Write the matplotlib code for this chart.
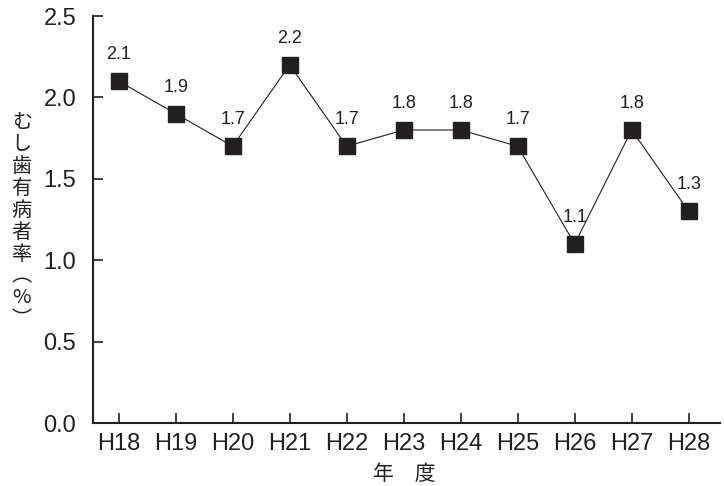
import matplotlib
matplotlib.use("Agg")
import matplotlib.pyplot as plt

years = ["H18", "H19", "H20", "H21", "H22", "H23", "H24", "H25", "H26", "H27", "H28"]
rates = [2.1, 1.9, 1.7, 2.2, 1.7, 1.8, 1.8, 1.7, 1.1, 1.8, 1.3]
yticks = [0.0, 0.5, 1.0, 1.5, 2.0, 2.5]

plt.rcParams['font.family'] = ['Liberation Sans', 'Noto Sans CJK JP', 'DejaVu Sans']
ink = "#231f20"

fig = plt.figure(figsize=(7.24, 4.86), dpi=100)
ax = fig.add_axes([0.1285, 0.1296, 0.866, 0.8374])

x = list(range(len(years)))
ax.plot(x, rates, color=ink, lw=0.8, marker="s", markersize=11.5,
        markerfacecolor=ink, markeredgecolor=ink)
for xi, v in zip(x, rates):
    ax.annotate(f"{v:.1f}", (xi, v), xytext=(0, 13), textcoords="offset points",
                ha="center", va="bottom", fontsize=13, color=ink)

ax.set_xlim(-0.45, 10.55)
ax.set_ylim(0, 2.5)
ax.set_xticks(x)
ax.set_xticklabels(years)
ax.set_yticks(yticks)
ax.set_yticklabels([f"{t:.1f}" for t in yticks])
ax.tick_params(direction="in", length=7, width=1.2, colors=ink, labelsize=17,
               labelcolor=ink)
ax.tick_params(axis="y", pad=12)
ax.tick_params(axis="x", pad=7)
for s in ["top", "right"]:
    ax.spines[s].set_visible(False)
for s in ["left", "bottom"]:
    ax.spines[s].set_linewidth(1.5)
    ax.spines[s].set_color(ink)

ylab = "\n".join(list("むし歯有病者率") + ["︵", "%", "︶"])
fig.text(0.030, 0.545, ylab, ha="center", va="center", fontsize=14.5,
         color=ink, linespacing=1.06, family=['Noto Sans CJK JP', 'DejaVu Sans'])
fig.text(0.559, 0.025, "年\u3000度", ha="center", va="center", fontsize=15,
         color=ink, family=['Noto Sans CJK JP', 'DejaVu Sans'])

fig.savefig("out.png", dpi=100)
